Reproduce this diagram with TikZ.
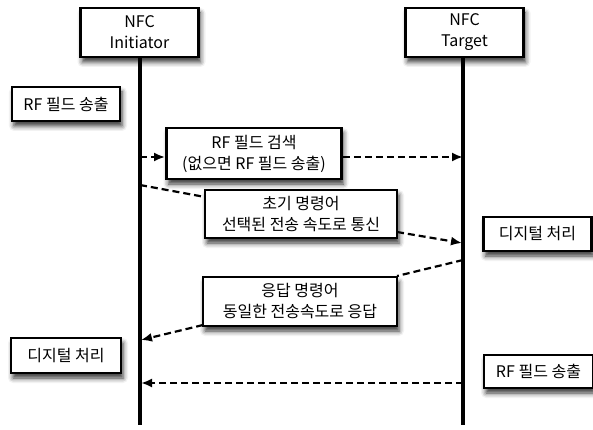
\documentclass[tikz,border=0pt]{standalone}
\usepackage{fontspec}
\setmainfont{Noto Sans CJK KR}
\usetikzlibrary{arrows.meta,shadows.blur}
\tikzset{
  box/.style={draw=black, line width=2.8pt, fill=white, align=center, inner sep=0pt,
    font=\fontsize{16}{21}\selectfont,
    blur shadow={shadow xshift=2pt, shadow yshift=-5pt, shadow blur radius=5pt, shadow opacity=80}},
  life/.style={line width=4.2pt},
  msg/.style={line width=2.2pt, dash pattern=on 7pt off 4pt, -{Latex[length=11pt,width=9pt]}},
  plain/.style={line width=2.2pt, dash pattern=on 7pt off 4pt}
}
\begin{document}
\begin{tikzpicture}[x=1pt,y=-1pt]
\useasboundingbox (0,0) rectangle (593,430);
% lifelines
\coordinate (iniEnd) at (140,425);
\coordinate (tgtEnd) at (463,425);
\draw[life] (140,57) coordinate (iniTop) -- (iniEnd);
\draw[life] (463,57) coordinate (tgtTop) -- (tgtEnd);
% heads
\node[box, minimum width=118pt, minimum height=49pt] (ini) at (139.5,32.5) {NFC\\Initiator};
\node[box, minimum width=118pt, minimum height=49pt] (tgt) at (464.5,32.5) {NFC\\Target};
% side boxes
\node[box, minimum width=108pt, minimum height=34pt] (rf1) at (66,104) {RF 필드 송출};
\node[box, minimum width=108pt, minimum height=34pt] (dig1) at (537.5,234) {디지털 처리};
\node[box, minimum width=110pt, minimum height=35pt] (dig2) at (66,355.5) {디지털 처리};
\node[box, minimum width=109pt, minimum height=33pt] (rf2) at (538.5,371.5) {RF 필드 송출};
% message boxes
\node[box, minimum width=175pt, minimum height=51pt] (search) at (254,153.5) {RF 필드 검색\\(없으면 RF 필드 송출)};
\node[box, minimum width=192pt, minimum height=48pt] (init) at (301,214) {초기 명령어\\선택된 전송 속도로 통신};
\node[box, minimum width=194pt, minimum height=49pt] (resp) at (300,301.5) {응답 명령어\\동일한 전송속도로 응답};
% message coordinates on lifelines
\coordinate (a1) at (140,157);
\coordinate (b1) at (463,157);
\coordinate (a2) at (140,185);
\coordinate (a2e) at (205,197);
\coordinate (a2s) at (397,232);
\coordinate (b2) at (462,243);
\coordinate (b3) at (463,260);
\coordinate (b3e) at (397,276);
\coordinate (a3s) at (203,325);
\coordinate (a3) at (141,340);
\coordinate (b4) at (463,383);
\coordinate (a4) at (141,383);
% messages
\draw[msg] (a1) -- (search.west |- a1);
\draw[msg] (search.east |- b1) -- (b1);
\draw[plain] (a2) -- (a2e);
\draw[msg] (a2s) -- (b2);
\draw[plain] (b3) -- (b3e);
\draw[msg] (a3s) -- (a3);
\draw[msg] (b4) -- (a4);
\end{tikzpicture}
\end{document}
